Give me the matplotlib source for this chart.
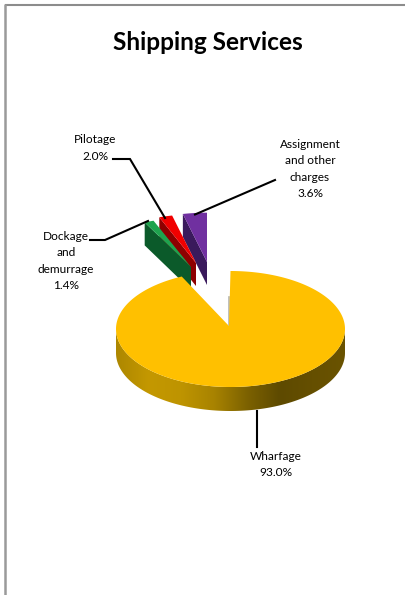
import numpy as np
import matplotlib
matplotlib.use("Agg")
import matplotlib.pyplot as plt
from matplotlib.colors import LinearSegmentedColormap
from matplotlib.patches import Polygon

# Revenue shares, percent
categories = ["Wharfage", "Dockage\nand\ndemurrage", "Pilotage", "Assignment\nand other\ncharges"]
shares = [93.0, 1.4, 2.0, 3.6]
face_colors = ["#FFC000", "#1FA34E", "#F00000", "#7030A0"]
side_colors = ["#A07A00", "#0B5A2A", "#8E0000", "#3A1A5C"]

W, H = 406, 595
fig = plt.figure(figsize=(W / 100, H / 100), dpi=100)
ax = fig.add_axes([0, 0, 1, 1])
ax.set_xlim(0, W)
ax.set_ylim(H, 0)
ax.axis("off")
plt.rcParams["font.family"] = ["Lato", "DejaVu Sans"]

# Outer frame: only the top and left borders are visible
ax.plot([5, W], [4.5, 4.5], color="#8C8C8C", lw=1.5, solid_capstyle="butt")
ax.plot([5, 5], [4, H], color="#9A9A9A", lw=1.8, solid_capstyle="butt")

ax.text(207.5, 42, "Shipping Services", ha="center", va="center",
        fontsize=17.6, fontweight="bold", color="black")

# Pie geometry in pixels
CX, CY, RX, RY, DEPTH = 230.5, 329.0, 114.5, 58.0, 24.0
edges = np.concatenate([[0], np.cumsum(shares)]) / sum(shares) * 2 * np.pi


def rim(theta, apex, sx=1.0, sy=1.0):
    """Point on the top rim, theta clockwise from twelve o'clock."""
    return np.column_stack([apex[0] + sx * RX * np.sin(theta),
                            apex[1] - sy * RY * np.cos(theta)])


# Wedges pulled out of the pie: apex position and rim scales, drawn back to front
pulled = {3: ((207.0, 262.0), 0.94, 0.85),
          2: ((196.0, 263.0), 0.93, 0.84),
          1: ((191.0, 267.0), 0.95, 0.85)}
for i, (apex, sx, sy) in pulled.items():
    th = np.linspace(edges[i], edges[i + 1], 20)
    arc = rim(th, apex, sx, sy)
    a = np.array(apex)
    drop = np.array([0, DEPTH - 1])
    ax.add_patch(Polygon([arc[0], a, a + drop, arc[0] + drop],
                         closed=True, fc=side_colors[i], ec="none", zorder=3 + (4 - i) * 0.1))
    ax.add_patch(Polygon(np.vstack([[a], arc]), closed=True,
                         fc=face_colors[i], ec="none", zorder=3.05 + (4 - i) * 0.1))

# Main slice: shaded rim below the top face
th_front = np.linspace(np.pi / 2, 3 * np.pi / 2, 200)
top_front = rim(th_front, (CX, CY))
side = np.vstack([top_front, (top_front + [0, DEPTH])[::-1]])
side_patch = Polygon(side, closed=True, fc="none", ec="none", zorder=4)
ax.add_patch(side_patch)
rim_cmap = LinearSegmentedColormap.from_list(
    "rim", ["#6A5300", "#654F00", "#5E4A00", "#7D6200", "#A88300", "#BE9400", "#C49800", "#AD8700"])
# Colours run right to left across the rim
grad = ax.imshow(np.linspace(0, 1, 256)[None, :], cmap=rim_cmap, aspect="auto",
                 extent=[CX + RX, CX - RX, CY + 90, CY], zorder=4)
grad.set_clip_path(side_patch)
ax.set_xlim(0, W)
ax.set_ylim(H, 0)

th = np.linspace(edges[0], edges[1], 400)
apex0 = (229.0, 326.0)
top = rim(th, (CX, CY))
ax.add_patch(Polygon(np.vstack([[apex0], top]), closed=True,
                     fc=face_colors[0], ec="none", zorder=5))
# Thin cut face showing at the vertical edge of the gap
ax.plot([228.6, 228.6], [297, 325], color="#B5B5B0", lw=1.2, zorder=4.9)

# Leader lines
leaders = [
    ([257, 257], [411, 447]),
    ([90, 105, 148], [240, 240, 221]),
    ([113, 130, 165], [159, 159, 218]),
    ([275, 195], [180, 214.5]),
]
for xs, ys in leaders:
    ax.plot(xs, ys, color="black", lw=1.5, zorder=6, solid_joinstyle="miter")

# Labels pair each category with its share
label_pos = [(275.5, 464.5), (66, 261), (95, 148), (310, 169)]
for name, val, (x, y) in zip(categories, shares, label_pos):
    ax.text(x, y, f"{name}\n{val:.1f}%", ha="center", va="center",
            fontsize=8.6, color="black", linespacing=1.58, zorder=7)

fig.savefig("out.png", dpi=100, facecolor="white")
